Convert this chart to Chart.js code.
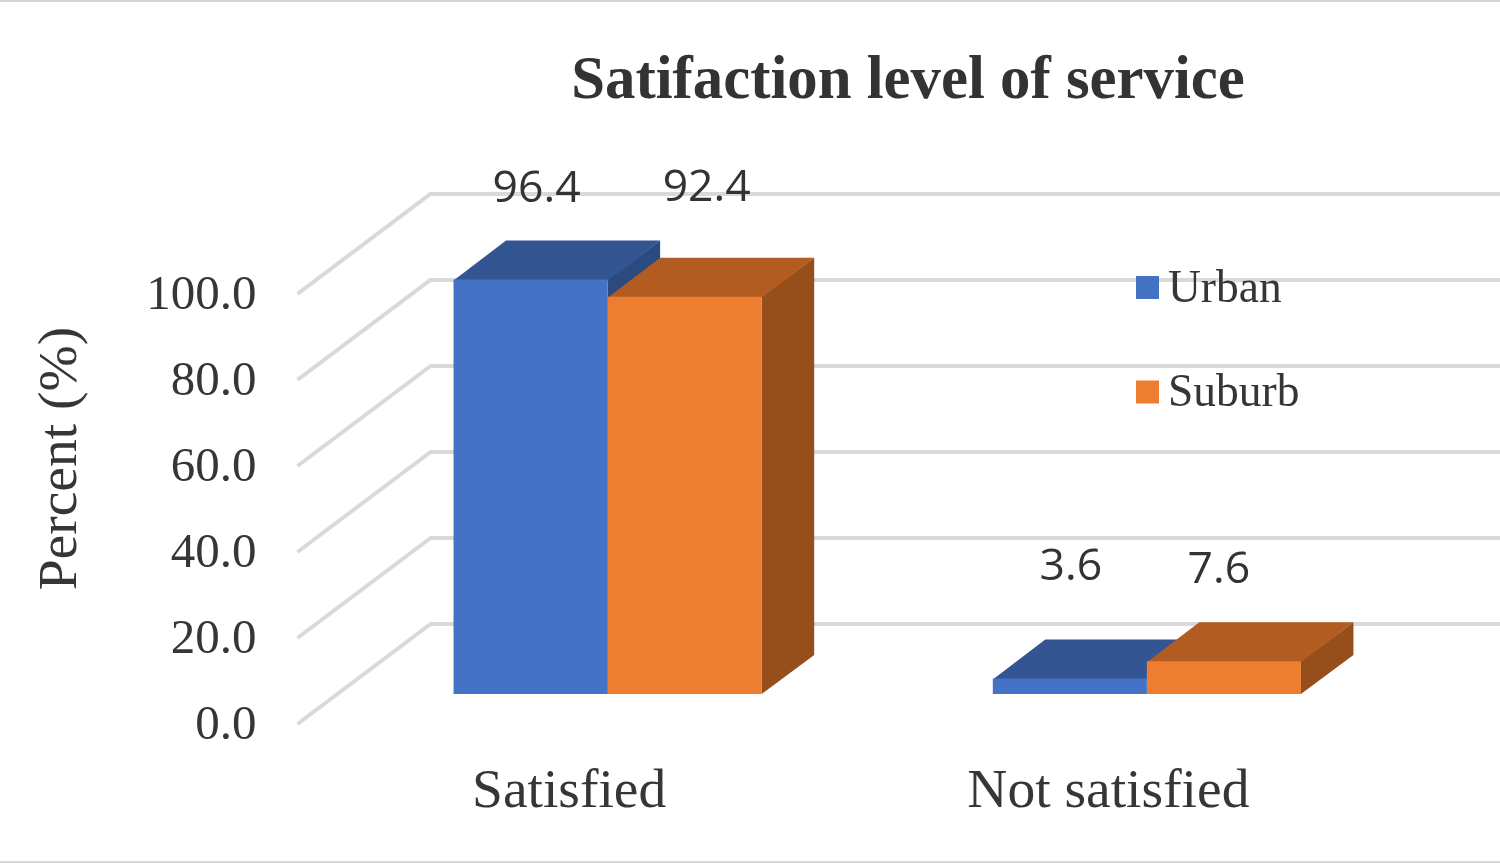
<!DOCTYPE html>
<html>
<head>
<meta charset="utf-8">
<title>Satifaction level of service</title>
<script src="https://cdn.jsdelivr.net/npm/chart.js@4"></script>
<style>
  html, body { margin: 0; padding: 0; background: #fff; }
  canvas { display: block; }
</style>
</head>
<body>
<canvas id="myChart" width="1500" height="863"></canvas>
<script>
const categories = ["Satisfied", "Not satisfied"];
const urbanValues = [96.4, 3.6];
const suburbValues = [92.4, 7.6];
const tickLabels = ["0.0", "20.0", "40.0", "60.0", "80.0", "100.0"];

const textColor = "#363636";
const gridColor = "#d9d9d9";
const serif = "'Liberation Serif', serif";

// 3d look: wall depth, bar depth, and how far the bars sit in from the front plane
const wallDepth = { x: 133, y: -100 };
const barDepth = { x: 52.5, y: -39 };
const barShift = { x: 38.5, y: -30 };

const faceColors = [
  { top: "#335693", side: "#2a4a80" },
  { top: "#b35c21", side: "#964e1b" }
];

// the labels were placed by hand in the original, so they get their own nudges
const labelNudge = [
  [[6, -90], [1, -111]],
  [[22, -108], [-5, -91]]
];

const scene3d = {
  id: "scene3d",
  beforeDraw(chart) {
    const ctx = chart.ctx;
    const area = chart.chartArea;
    const y = chart.scales.y;

    // frame lines at the very top and bottom of the picture
    ctx.save();
    ctx.fillStyle = "#d6d6d6";
    ctx.fillRect(0, 0, chart.width, 2);
    ctx.fillRect(0, 861, chart.width, 2);

    // side wall + back wall lines
    ctx.strokeStyle = gridColor;
    ctx.lineWidth = 4;
    ctx.lineJoin = "round";
    y.ticks.forEach(t => {
      const py = y.getPixelForValue(t.value);
      const x0 = area.left - 2;
      ctx.beginPath();
      ctx.moveTo(x0, py);
      ctx.lineTo(x0 + wallDepth.x, py + wallDepth.y);
      ctx.lineTo(chart.width, py + wallDepth.y);
      ctx.stroke();
    });
    ctx.restore();
  },
  beforeDatasetsDraw(chart) {
    const ctx = chart.ctx;
    ctx.save();
    ctx.translate(barShift.x, barShift.y);

    // top and side faces, the front faces are the library's own bars
    chart.data.datasets.forEach((ds, i) => {
      chart.getDatasetMeta(i).data.forEach(bar => {
        const l = bar.x - bar.width / 2;
        const r = bar.x + bar.width / 2;
        ctx.fillStyle = faceColors[i].side;
        ctx.beginPath();
        ctx.moveTo(r, bar.y);
        ctx.lineTo(r + barDepth.x, bar.y + barDepth.y);
        ctx.lineTo(r + barDepth.x, bar.base + barDepth.y);
        ctx.lineTo(r, bar.base);
        ctx.closePath();
        ctx.fill();

        // runs 1px under the front face so no seam shows at the join
        ctx.fillStyle = faceColors[i].top;
        ctx.beginPath();
        ctx.moveTo(l, bar.y + 1);
        ctx.lineTo(l + barDepth.x, bar.y + barDepth.y);
        ctx.lineTo(r + barDepth.x, bar.y + barDepth.y);
        ctx.lineTo(r, bar.y + 1);
        ctx.closePath();
        ctx.fill();
      });
    });
  },
  afterDatasetsDraw(chart) {
    const ctx = chart.ctx;
    ctx.restore();

    // value labels
    ctx.save();
    ctx.fillStyle = "#333333";
    ctx.font = "44.5px 'Open Sans', sans-serif";
    ctx.textAlign = "center";
    ctx.textBaseline = "middle";
    chart.data.datasets.forEach((ds, i) => {
      chart.getDatasetMeta(i).data.forEach((bar, j) => {
        const nudge = labelNudge[i][j];
        ctx.fillText(ds.data[j].toFixed(1), bar.x + barShift.x + nudge[0], bar.y + barShift.y + nudge[1]);
      });
    });
    ctx.restore();
  },
  afterDraw(chart) {
    const ctx = chart.ctx;
    ctx.save();

    // legend sits inside the plot, with a tighter gap than the built in one allows
    ctx.textBaseline = "middle";
    ctx.textAlign = "left";
    ctx.font = "45.5px " + serif;
    chart.data.datasets.forEach((ds, i) => {
      const cy = 287 + i * 104.5;
      ctx.fillStyle = ds.backgroundColor;
      ctx.fillRect(1136, cy - 11, 23, 23);
      ctx.fillStyle = textColor;
      ctx.fillText(ds.label, 1168, cy + 3);
    });

    // axis title, centred higher than the scale would put it
    ctx.translate(61, 458.5);
    ctx.rotate(-Math.PI / 2);
    ctx.textAlign = "center";
    ctx.font = "55.5px " + serif;
    ctx.fillText("Percent (%)", 0, 0);
    ctx.restore();
  }
};

new Chart("myChart", {
  type: "bar",
  data: {
    labels: categories,
    datasets: [
      { label: "Urban", data: urbanValues, backgroundColor: "#4472c4" },
      { label: "Suburb", data: suburbValues, backgroundColor: "#ed7d31" }
    ]
  },
  options: {
    responsive: false,
    animation: false,
    categoryPercentage: 1 / 1.75,
    barPercentage: 1,
    layout: { padding: { left: 0, right: 122, top: 0, bottom: 0 } },
    plugins: {
      legend: { display: false },
      tooltip: { enabled: false },
      title: {
        display: true,
        text: "Satifaction level of service",
        color: "#333333",
        font: { family: serif, size: 60.8, weight: "bold" },
        padding: { top: 46, bottom: 175 }
      }
    },
    scales: {
      x: {
        grid: { display: false, drawTicks: false },
        border: { display: false },
        afterFit(scale) { scale.height = 139; },
        ticks: {
          color: textColor,
          padding: 35,
          maxRotation: 0,
          font: { family: serif, size: 55.5 }
        }
      },
      y: {
        min: 0,
        max: 100,
        grid: { display: false, drawTicks: false },
        border: { display: false },
        afterFit(scale) { scale.width = 299.5; },
        ticks: {
          stepSize: 20,
          color: textColor,
          padding: 43,
          labelOffset: 2,
          font: { family: serif, size: 49 },
          callback: (value, i) => tickLabels[i]
        }
      }
    }
  },
  plugins: [scene3d, {
    id: "titleCentre",
    afterLayout(chart) {
      // the title is centred over the back wall, not the canvas
      chart.titleBlock.left = 316;
      chart.titleBlock.right = 1500;
    }
  }]
});
</script>
</body>
</html>
